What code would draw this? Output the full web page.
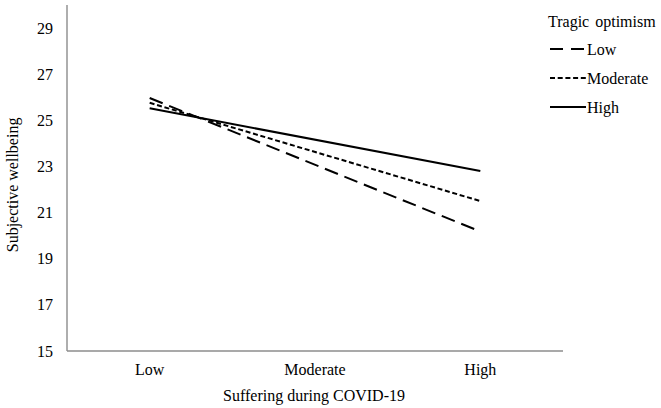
<!DOCTYPE html>
<html>
<head>
<meta charset="utf-8">
<script src="https://cdn.jsdelivr.net/npm/d3@7"></script>
<style>
  body { margin: 0; background: #fff; }
  svg text { font-family: "Liberation Serif", "Times New Roman", serif; fill: #000; }
</style>
</head>
<body>
<div id="chart"></div>
<script>
// Categories on the x axis (suffering during COVID-19)
const categories = ["Low", "Moderate", "High"];
// y axis ticks
const yTicks = [15, 17, 19, 21, 23, 25, 27, 29];
// Each line goes from suffering "Low" to "High"
const lineCats = ["Low", "High"];
// Series (tragic optimism levels)
const seriesNames = ["Low", "Moderate", "High"];
const lowValues = [25.97, 20.18];
const moderateValues = [25.76, 21.5];
const highValues = [25.52, 22.8];

const dashes = { Low: "14,7", Moderate: "5,2.7", High: null };

const width = 661;
const height = 408;
const margin = { top: 5, right: 98, bottom: 57, left: 67 };

const svg = d3
  .select("#chart")
  .append("svg")
  .attr("width", width)
  .attr("height", height);

const x = d3
  .scaleBand()
  .domain(categories)
  .range([margin.left, width - margin.right]);

const y = d3
  .scaleLinear()
  .domain([15, 30])
  .range([height - margin.bottom, margin.top]);

// Axis lines
svg
  .append("line")
  .attr("x1", margin.left)
  .attr("x2", margin.left)
  .attr("y1", y(30))
  .attr("y2", y(15))
  .attr("stroke", "#8c8c8c")
  .attr("stroke-width", 1.4);

svg
  .append("line")
  .attr("x1", margin.left)
  .attr("x2", width - margin.right)
  .attr("y1", y(15))
  .attr("y2", y(15))
  .attr("stroke", "#8c8c8c")
  .attr("stroke-width", 1.4);

// Y tick labels
svg
  .selectAll("text.ytick")
  .data(yTicks)
  .enter()
  .append("text")
  .attr("class", "ytick")
  .attr("x", margin.left - 14)
  .attr("y", (d) => y(d) + 5.5)
  .attr("text-anchor", "end")
  .style("font-size", "16px")
  .text((d) => d);

// X tick labels
svg
  .selectAll("text.xtick")
  .data(categories)
  .enter()
  .append("text")
  .attr("class", "xtick")
  .attr("x", (d) => x(d) + x.bandwidth() / 2)
  .attr("y", y(15) + 24)
  .attr("text-anchor", "middle")
  .style("font-size", "16px")
  .text((d) => d);

// Axis titles
svg
  .append("text")
  .attr("x", (margin.left + width - margin.right) / 2 - 1)
  .attr("y", height - 7)
  .attr("text-anchor", "middle")
  .style("font-size", "16px")
  .text("Suffering during COVID-19");

svg
  .append("text")
  .attr("transform", `translate(18,${y(22.2)}) rotate(-90)`)
  .attr("text-anchor", "middle")
  .style("font-size", "16px")
  .text("Subjective wellbeing");

// Lines
const series = [
  { name: "Low", values: lowValues },
  { name: "Moderate", values: moderateValues },
  { name: "High", values: highValues },
];

const line = d3
  .line()
  .x((d, i) => x(lineCats[i]) + x.bandwidth() / 2)
  .y((d) => y(d));

svg
  .selectAll("path.series")
  .data(series)
  .enter()
  .append("path")
  .attr("class", "series")
  .attr("fill", "none")
  .attr("stroke", "#000")
  .attr("stroke-width", 2)
  .attr("stroke-dasharray", (d) => dashes[d.name])
  .attr("d", (d) => line(d.values));

// Legend
const legend = svg.append("g").attr("transform", "translate(548,0)");
legend
  .append("text")
  .attr("x", 0)
  .attr("y", 27)
  .style("font-size", "16px")
  .style("word-spacing", "2px")
  .text("Tragic optimism");

const items = legend
  .selectAll("g.item")
  .data(seriesNames)
  .enter()
  .append("g")
  .attr("class", "item")
  .attr("transform", (d, i) => `translate(0,${49 + i * 29})`);

items
  .append("line")
  .attr("x1", 2)
  .attr("x2", 38)
  .attr("y1", 0)
  .attr("y2", 0)
  .attr("stroke", "#000")
  .attr("stroke-width", 2)
  .attr("stroke-dasharray", (d) => (d === "Low" ? "13,8" : dashes[d]));

items
  .append("text")
  .attr("x", 39)
  .attr("y", 5.5)
  .style("font-size", "16px")
  .text((d) => d);
</script>
</body>
</html>
